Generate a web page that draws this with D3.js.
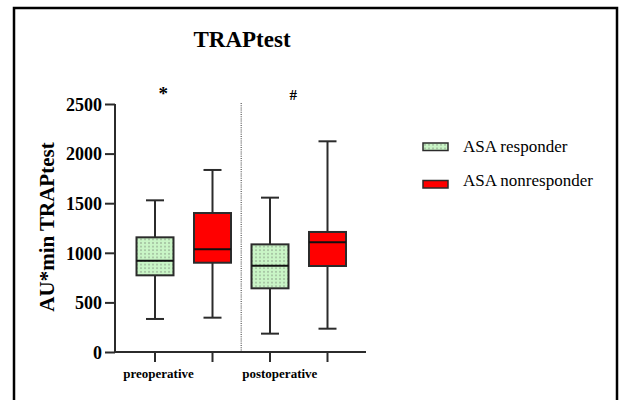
<!DOCTYPE html>
<html>
<head>
<meta charset="utf-8">
<script src="https://cdn.jsdelivr.net/npm/d3@7"></script>
<style>
  html, body { margin: 0; padding: 0; background: #fff; }
  svg { display: block; }
  svg text { font-family: "Liberation Serif", "Times New Roman", serif !important; }
</style>
</head>
<body>
<div id="chart"></div>
<script>
const categories = ["preoperative", "postoperative"];
const series = ["ASA responder", "ASA nonresponder"];
// [min, q1, median, q3, max] per category
const responder = [[333, 773, 920, 1156, 1529], [185, 642, 870, 1085, 1556]];
const nonresponder = [[346, 900, 1035, 1401, 1835], [235, 867, 1106, 1210, 2124]];
const yTicks = [0, 500, 1000, 1500, 2000, 2500];
const marks = ["*", "#"];

const colors = { "ASA responder": "#c9f5c6", "ASA nonresponder": "#ff0000" };

const W = 619, H = 400;
const svg = d3.select("#chart").append("svg")
    .attr("width", W).attr("height", H);

// dotted pattern for responder boxes
const defs = svg.append("defs");
const pat = defs.append("pattern")
    .attr("id", "dots").attr("patternUnits", "userSpaceOnUse")
    .attr("width", 4).attr("height", 3.6);
pat.append("rect").attr("width", 4).attr("height", 3.6).attr("fill", colors["ASA responder"]);
pat.append("rect").attr("x", 1.5).attr("y", 1.3).attr("width", 1).attr("height", 1).attr("fill", "#555");

// frame
svg.append("rect")
    .attr("x", 14).attr("y", 8).attr("width", 603).attr("height", 420)
    .attr("fill", "none").attr("stroke", "#000").attr("stroke-width", 2.5);

const y = d3.scaleLinear().domain([0, 2500]).range([352, 104]);

const slots = [];
categories.forEach((c, i) => series.forEach((s, j) => slots.push(c + "|" + s)));
const x = d3.scaleBand().domain(slots).range([126.25, 356.25]).padding(0);
const xg = d3.scaleBand().domain(categories).range([126.25, 356.25]).padding(0);

const rows = [];
categories.forEach((c, i) => {
    rows.push({ cat: c, ser: series[0], v: responder[i] });
    rows.push({ cat: c, ser: series[1], v: nonresponder[i] });
});

const boxW = 37, capW = 18;
const ink = "#2b2b2b";

// separator
svg.append("line")
    .attr("x1", xg("postoperative")).attr("x2", xg("postoperative"))
    .attr("y1", 103).attr("y2", y(0))
    .attr("stroke", "#777").attr("stroke-width", 1.5)
    .attr("stroke-dasharray", "1,1.2");

const g = svg.selectAll(".box").data(rows).enter().append("g").attr("class", "box")
    .attr("transform", d => `translate(${x(d.cat + "|" + d.ser) + x.bandwidth() / 2},0)`);

g.append("line").attr("x1", 0).attr("x2", 0)
    .attr("y1", d => y(d.v[0])).attr("y2", d => y(d.v[4]))
    .attr("stroke", ink).attr("stroke-width", 2);
g.append("line").attr("x1", -capW / 2).attr("x2", capW / 2)
    .attr("y1", d => y(d.v[0])).attr("y2", d => y(d.v[0]))
    .attr("stroke", ink).attr("stroke-width", 2);
g.append("line").attr("x1", -capW / 2).attr("x2", capW / 2)
    .attr("y1", d => y(d.v[4])).attr("y2", d => y(d.v[4]))
    .attr("stroke", ink).attr("stroke-width", 2);
g.append("rect")
    .attr("x", -boxW / 2).attr("width", boxW)
    .attr("y", d => y(d.v[3])).attr("height", d => y(d.v[1]) - y(d.v[3]))
    .attr("fill", d => d.ser === series[0] ? "url(#dots)" : colors[d.ser])
    .attr("stroke", ink).attr("stroke-width", 2);
g.append("line").attr("x1", -boxW / 2).attr("x2", boxW / 2)
    .attr("y1", d => y(d.v[2])).attr("y2", d => y(d.v[2]))
    .attr("stroke", "#111").attr("stroke-width", 2);

// y axis
const yAxis = svg.append("g")
    .attr("transform", "translate(115,0)")
    .call(d3.axisLeft(y).tickValues(yTicks).tickSize(10).tickPadding(3).tickFormat(d3.format("d")));
yAxis.select(".domain").attr("stroke", ink).attr("stroke-width", 2).attr("d", `M0,${y(2500)}V${y(0)}`);
yAxis.selectAll(".tick line").attr("stroke", ink).attr("stroke-width", 2);
yAxis.selectAll(".tick text")
    .attr("font-weight", "bold")
    .attr("font-size", 18).attr("fill", "#000").attr("dy", "0.35em");

// x axis
const xAxis = svg.append("g")
    .attr("transform", `translate(0,${y(0)})`)
    .call(d3.axisBottom(x).tickSize(10).tickFormat(""));
xAxis.select(".domain").attr("stroke", ink).attr("stroke-width", 2).attr("d", "M115,0H366");
xAxis.selectAll(".tick line").attr("stroke", ink).attr("stroke-width", 2);

svg.selectAll(".cat").data(categories).enter().append("text")
    .attr("x", d => xg(d) - 3 + (d === "postoperative" ? 4 : 0))
    .attr("y", 378)
    .attr("font-weight", "bold").attr("font-size", 13)
    .text(d => d);

// significance marks
svg.selectAll(".mark").data(marks).enter().append("text")
    .attr("x", (d, i) => xg(categories[i]) + (i === 0 ? 37 : 52))
    .attr("y", (d, i) => i === 0 ? 100 : 100)
    .attr("text-anchor", "middle").attr("font-weight", "bold")
    .attr("font-size", (d, i) => i === 0 ? 19 : 15)
    .text(d => d);

// title
svg.append("text").attr("x", 242).attr("y", 47)
    .attr("text-anchor", "middle").attr("font-weight", "bold").attr("font-size", 23)
    .text("TRAPtest");

// y label
svg.append("text")
    .attr("transform", "translate(54,227) rotate(-90)")
    .attr("text-anchor", "middle").attr("font-weight", "bold").attr("font-size", 21)
    .text("AU*min TRAPtest");

// legend
const lg = svg.selectAll(".leg").data(series).enter().append("g")
    .attr("transform", (d, i) => `translate(423,${i === 0 ? 143 : 180.5})`);
lg.append("rect").attr("width", 25).attr("height", 7.5)
    .attr("fill", d => d === series[0] ? "url(#dots)" : colors[d])
    .attr("stroke", ink).attr("stroke-width", 1.5);
lg.append("text").attr("x", 40).attr("y", (d, i) => i === 0 ? 9.3 : 5.5)
    .attr("font-size", 17).attr("fill", "#000").text(d => d);
</script>
</body>
</html>
